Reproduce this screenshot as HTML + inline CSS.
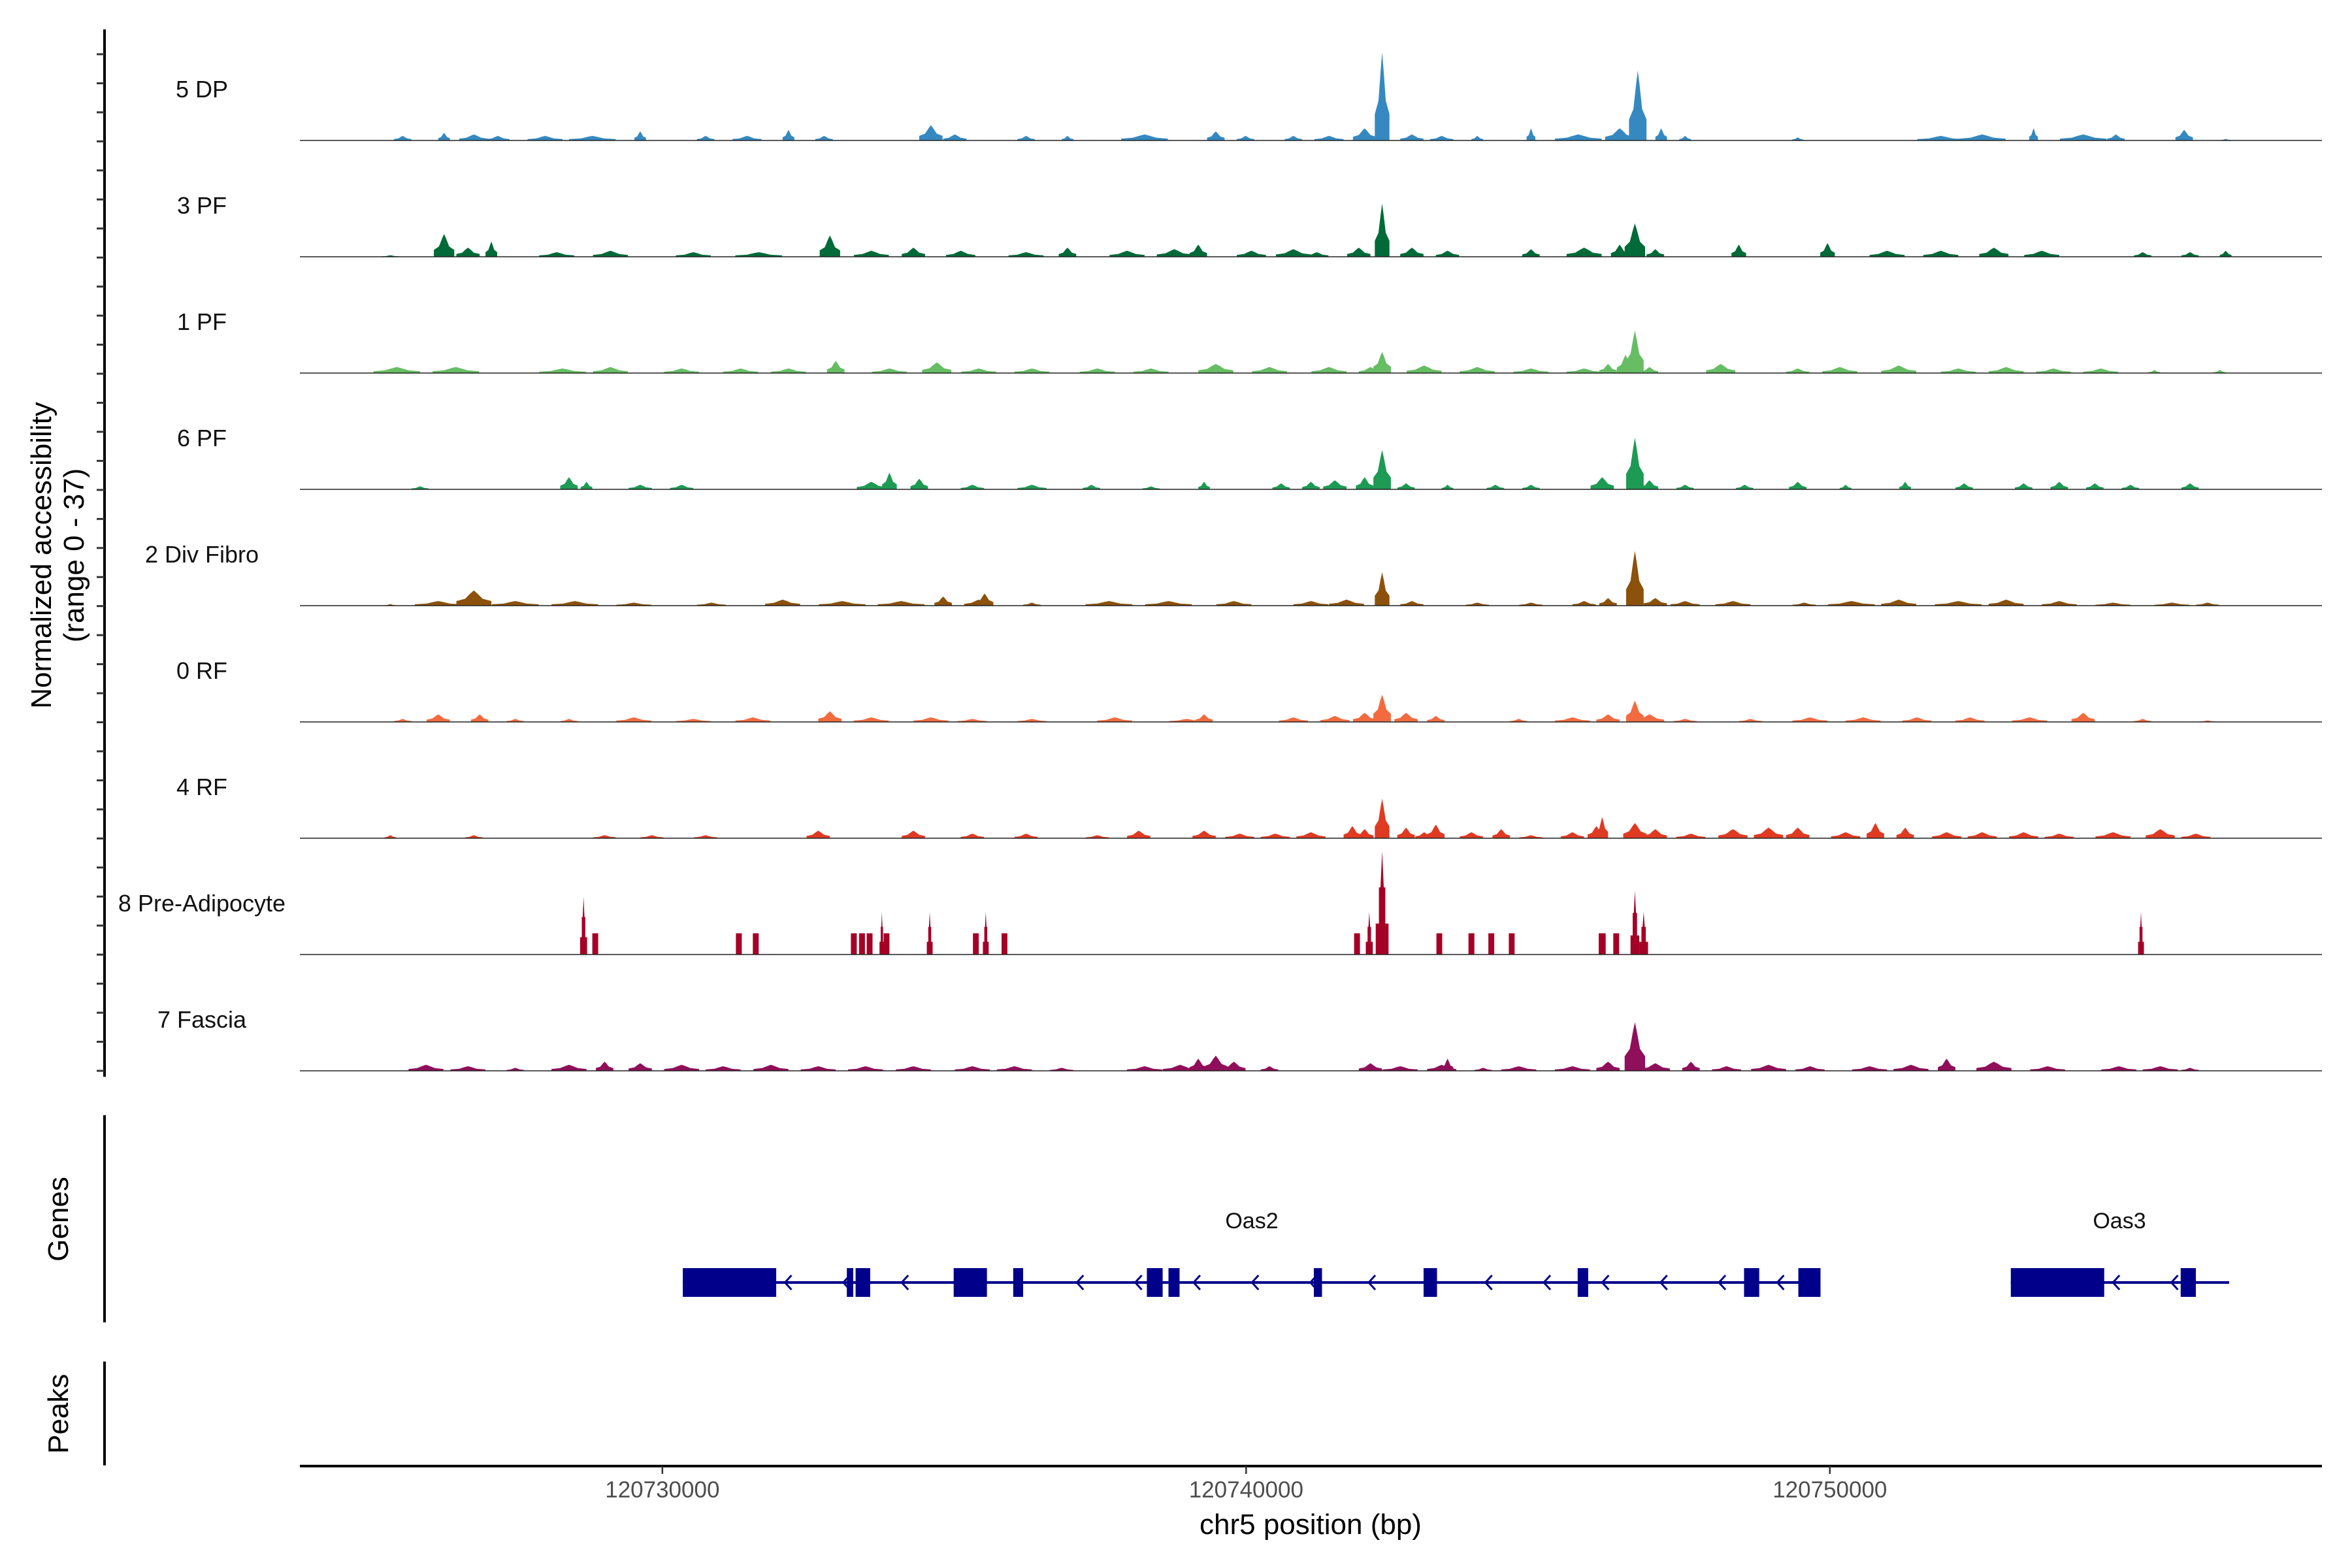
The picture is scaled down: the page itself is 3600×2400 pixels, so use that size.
<!DOCTYPE html>
<html><head><meta charset="utf-8"><style>
html,body{margin:0;padding:0;background:#fff;}
svg{display:block;font-family:"Liberation Sans",Arial,sans-serif;}
</style></head>
<body>
<svg id="chart" width="3600" height="2400" viewBox="0 0 3600 2400" xmlns="http://www.w3.org/2000/svg">
<rect width="3600" height="2400" fill="#fff"/>
<g id="tracks"></g>
<g id="yaxis"></g>
<g id="genes"></g>
<g id="xaxis"></g>
<text transform="translate(78,850) rotate(-90)" text-anchor="middle" font-size="44">Normalized accessibility</text>
<text transform="translate(128,850) rotate(-90)" text-anchor="middle" font-size="44">(range 0 - 37)</text>
<text transform="translate(104,1866) rotate(-90)" text-anchor="middle" font-size="44">Genes</text>
<text transform="translate(104,2164) rotate(-90)" text-anchor="middle" font-size="44">Peaks</text>
<text x="2006" y="2348" text-anchor="middle" font-size="44">chr5 position (bp)</text>
</svg>
<script>
// positions in kb relative to chr5:120,720,000
const trackNames = ["5 DP","3 PF","1 PF","6 PF","2 Div Fibro","0 RF","4 RF","8 Pre-Adipocyte","7 Fascia"];
const trackColors = ["#3589c0","#006a38","#66bd63","#1d9a53","#8c510a","#f26b3f","#e03a22","#a50026","#8f0f5a"];
const peaksDP = [[5.55,1.5,.3],[6.26,2.5,.2],[6.77,2,.5],[7.18,1.5,.4],[7.99,1.5,.6],[8.8,1.5,.8],[9.62,3,.2],[10.74,1.5,.3],[11.45,1.5,.5],[12.16,3.5,.2],[12.77,1.5,.3],[14.6,5,.4],[15.01,2,.4],[16.23,1.5,.3],[16.94,1.5,.2],[18.26,2,.8],[19.48,3,.3],[19.99,1.5,.3],[20.81,1.5,.3],[21.42,1.5,.5],[22.03,4,.4],[22.33,29,.25],[22.84,2,.4],[23.35,1.5,.4],[23.96,1.5,.2],[24.88,4,.15],[25.69,2,.8],[26.4,4,.5],[26.71,23,.3],[27.11,4,.2],[27.52,1.5,.2],[29.45,1,.2],[31.9,1.5,.8],[32.61,2,.8],[33.49,4,.15],[34.34,2,.8],[34.9,2,.3],[36.07,3.5,.3],[36.78,.5,.2]];
const peaks3PF = [[5.34,.5,.3],[6.26,7.5,.35],[6.67,3,.4],[7.07,5,.2],[8.19,1.5,.6],[9.11,2,.6],[10.53,1.5,.6],[11.65,1.5,.8],[12.87,7,.35],[13.58,2,.6],[14.3,3,.4],[15.11,2,.5],[16.23,1.5,.6],[16.94,3,.3],[17.96,2,.6],[18.77,2.5,.6],[19.18,4,.3],[20.09,2,.5],[20.81,2.5,.6],[21.21,1.5,.4],[21.93,3,.4],[22.33,17.5,.25],[22.84,3,.4],[23.45,2,.4],[24.88,2.5,.3],[25.79,3,.6],[26.4,4,.3],[26.66,11,.35],[27.01,2.5,.3],[28.44,4,.25],[29.96,4.5,.25],[30.98,2,.6],[31.9,2,.6],[32.81,3,.5],[33.63,2,.6],[35.36,1.5,.3],[36.17,1.5,.3],[36.78,2,.2]];
const peaks1PF = [[5.45,2,.8],[6.46,2,.8],[8.29,1.5,.8],[9.11,2,.6],[10.33,1.5,.6],[11.34,1.5,.6],[12.16,1.5,.6],[12.97,4,.3],[13.89,1.5,.6],[14.7,3.5,.5],[15.42,1.5,.6],[16.33,1.5,.6],[17.45,1.5,.6],[18.37,1.5,.6],[19.48,3,.6],[20.4,2,.6],[21.42,2,.6],[22.13,2,.4],[22.33,7,.3],[23.05,2.5,.6],[23.96,2,.6],[24.88,1.5,.6],[25.79,1.5,.6],[26.2,3,.3],[26.5,6,.3],[26.66,14,.3],[26.91,2,.3],[28.13,3,.5],[29.45,1.5,.4],[30.17,2,.6],[31.18,2.5,.6],[32.2,1.5,.6],[33.02,2,.6],[33.83,1.5,.6],[34.64,1.5,.6],[35.56,1,.2],[36.68,1,.2]];
const peaks6PF = [[5.85,1,.3],[8.4,4,.3],[8.7,2.5,.2],[9.62,1.5,.4],[10.33,1.5,.4],[13.58,2.5,.5],[13.89,5.5,.25],[14.4,3.5,.3],[15.31,1.5,.4],[16.33,1.5,.5],[17.35,1.5,.3],[18.37,1,.3],[19.28,2.5,.2],[20.6,2,.3],[21.11,2.5,.3],[21.52,3,.4],[22.03,4,.3],[22.33,13,.3],[22.74,2,.3],[23.45,1.5,.2],[24.27,1.5,.3],[24.88,1.5,.3],[26.1,4,.4],[26.66,17,.3],[26.91,3,.3],[27.52,1.5,.3],[28.54,1.5,.3],[29.45,2.5,.3],[30.27,1.5,.2],[31.29,2.5,.2],[32.3,2,.3],[33.32,2,.3],[33.93,2.5,.3],[34.54,2,.3],[35.15,1.5,.3],[36.17,2,.3]];
const peaksDiv = [[5.34,.5,.2],[6.16,1.5,.8],[6.77,5,.6],[7.48,1.5,.8],[8.5,1.5,.8],[9.51,1,.6],[10.84,1,.5],[12.06,2,.6],[13.08,1.5,.8],[14.09,1.5,.8],[14.81,3,.3],[15.42,2,.5],[15.52,4,.3],[16.33,1,.3],[17.65,1.5,.8],[18.67,1.5,.8],[19.79,1.5,.6],[21.11,1.5,.6],[21.72,2,.6],[22.33,11,.25],[22.84,1.5,.4],[23.96,1,.4],[24.88,1,.4],[25.79,1.5,.4],[26.2,2.5,.3],[26.66,18,.3],[27.01,2.5,.4],[27.52,1.5,.5],[28.34,1.5,.6],[29.56,1,.4],[30.37,1.5,.8],[31.18,2,.6],[32.2,1.5,.8],[33.02,2,.6],[33.93,1.5,.6],[34.85,1,.6],[35.86,1,.6],[36.47,1,.4]];
const peaks0RF = [[5.55,1,.3],[6.16,2.5,.4],[6.87,2.5,.3],[7.48,1,.3],[8.4,1,.3],[9.51,1.5,.6],[10.53,1,.6],[11.55,1.5,.6],[12.87,3.5,.4],[13.58,1.5,.6],[14.6,1.5,.6],[15.31,1,.5],[16.33,1,.5],[17.75,1.5,.6],[18.98,1,.6],[19.28,2.5,.3],[20.81,1.5,.5],[21.52,2,.5],[22.03,3,.4],[22.33,9,.3],[22.74,3,.4],[23.25,2,.3],[24.67,1,.3],[25.59,1.5,.6],[26.2,2.5,.4],[26.66,7,.3],[26.91,2.5,.5],[27.52,1,.4],[28.64,1,.4],[29.66,1.5,.6],[30.57,1.5,.6],[31.49,1.5,.5],[32.4,1.5,.5],[33.42,1.5,.6],[34.34,3,.4],[35.36,1,.3],[36.47,.5,.3]];
const peaks4RF = [[5.34,1,.2],[6.77,1,.3],[9.01,1,.4],[9.82,1,.4],[10.74,1,.4],[12.67,2.5,.4],[14.3,2.5,.4],[15.31,1.5,.4],[16.23,1.5,.4],[17.45,1,.4],[18.16,2.5,.4],[19.28,2.5,.4],[19.89,1.5,.5],[20.5,1.5,.5],[21.11,2,.5],[21.82,4,.3],[22.03,3,.3],[22.33,13,.25],[22.74,3.5,.3],[23.05,2,.3],[23.25,4.5,.3],[23.86,2,.4],[24.37,3,.3],[24.88,1,.4],[25.59,2,.4],[26,4,.3],[26.1,7,.2],[26.66,5,.4],[27.01,3,.4],[27.62,1.5,.5],[28.34,3,.5],[28.95,3.5,.5],[29.45,3.5,.4],[30.27,2,.5],[30.78,5,.3],[31.29,3.5,.3],[32,2,.5],[32.61,2,.5],[33.32,2,.5],[33.93,1.5,.5],[34.85,2,.6],[35.66,3,.5],[36.27,1.5,.5]];
const peaksPre = [[8.65,19,.12],[8.85,7,.1],[11.31,7,.1],[11.6,7,.1],[13.28,7,.1],[13.42,7,.1],[13.55,7,.1],[13.76,14,.08],[13.84,7,.1],[14.58,14,.1],[15.37,7,.1],[15.54,14,.1],[15.86,7,.1],[21.9,7,.1],[22.11,14,.12],[22.33,34,.22],[23.31,7,.1],[23.86,7,.1],[24.2,7,.1],[24.55,7,.1],[26.1,7,.12],[26.34,7,.1],[26.66,21,.15],[26.81,14,.15],[35.33,14,.1]];
const peaksFascia = [[5.95,2,.6],[6.67,1.5,.6],[7.48,1,.3],[8.4,2,.6],[9.01,3,.3],[9.62,2.5,.4],[10.33,2,.6],[11.04,1.5,.6],[11.86,2,.6],[12.67,1.5,.6],[13.48,1.5,.6],[14.3,1.5,.6],[15.31,1.5,.6],[16.03,1.5,.6],[16.84,1,.4],[18.26,1.5,.6],[18.87,2,.6],[19.18,4,.3],[19.48,5,.4],[19.79,3,.4],[20.4,1.5,.3],[22.13,2.5,.4],[22.64,1.5,.6],[23.35,2,.5],[23.45,4,.2],[24.06,1,.3],[24.67,1.5,.6],[25.59,1.5,.6],[26.2,3,.4],[26.66,16,.35],[27.01,2.5,.5],[27.62,3,.3],[28.23,1.5,.5],[28.95,2,.6],[29.66,1.5,.5],[30.68,1.5,.6],[31.39,2,.6],[32,4,.3],[32.81,3,.6],[33.73,1.5,.6],[34.95,1.5,.6],[35.66,1.5,.6],[36.17,1,.3]];
const trackPeaks = [peaksDP,peaks3PF,peaks1PF,peaks6PF,peaksDiv,peaks0RF,peaks4RF,peaksPre,peaksFascia];
const xTicks = [10,20,30];
const xTickLabels = ["120730000","120740000","120750000"];
const oas2Exons = [[10.35,11.95],[13.16,13.27],[13.31,13.56],[14.99,15.56],[16.01,16.18],[18.30,18.57],[18.67,18.86],[21.16,21.30],[23.04,23.27],[25.68,25.86],[28.53,28.79],[29.46,29.84]];
const oas3Exons = [[33.10,34.70],[36.01,36.27]];
const oas3End = 36.84;

const NS="http://www.w3.org/2000/svg";
const X0=459,X1=3554,KB0=3.79,KB1=38.43;
function xs(kb){return X0+(kb-KB0)/(KB1-KB0)*(X1-X0);}
const YMAX=37,TH=172;
function ys(v,base){return base-v/YMAX*TH;}
function mk(tag,attrs,parent){const e=document.createElementNS(NS,tag);for(const k in attrs)e.setAttribute(k,attrs[k]);parent.appendChild(e);return e;}
const baselines=[]; for(let i=0;i<9;i++) baselines.push(215+i*178.0);

const tg=document.getElementById('tracks');
trackNames.forEach((name,i)=>{
  const base=baselines[i];
  const g=mk('g',{},tg);
  
  
  const lab=mk('text',{x:309,y:base-66,'text-anchor':'middle','font-size':36,fill:'#111'},g);
  lab.textContent=name;
  
  
  const pre = (i===7);
  trackPeaks[i].forEach(p=>{
    const c=p[0],v=p[1],w=p[2];
    let pts;
    if(pre){
      pts=[[c-w/2,0],[c-w/2,v*0.3],[c-w/4,v*0.3],[c-w/4,v*0.65],[c-w/8,v*0.65],[c,v],[c+w/8,v*0.65],[c+w/4,v*0.65],[c+w/4,v*0.3],[c+w/2,v*0.3],[c+w/2,0]];
      if(v<=8) pts=[[c-w/2,0],[c-w/2,v],[c+w/2,v],[c+w/2,0]];
    } else {
      pts=[[c-w/2,0],[c-w/2,v*0.3],[c-w/4,v*0.45],[c-w/10,v*0.8],[c,v],[c+w/10,v*0.8],[c+w/4,v*0.45],[c+w/2,v*0.3],[c+w/2,0]];
    }
    const poly=mk('polygon',{points:pts.map(q=>xs(q[0]).toFixed(1)+','+ys(q[1],base).toFixed(1)).join(' '),fill:trackColors[i]},g);
    
    
  });
  const bl=mk('line',{x1:X0,x2:X1,y1:base,y2:base,stroke:'#222','stroke-width':1.6},g);
  
  
});

// y axis
const ya=document.getElementById('yaxis');
const yl=mk('line',{x1:160,x2:160,y1:45,y2:1648,stroke:'#000','stroke-width':4},ya);


for(let i=0;i<36;i++){
  const y=83+i*(1639-83)/35;
  const t=mk('line',{x1:148,x2:160,y1:y,y2:y,stroke:'#333','stroke-width':3},ya);
  
  
}
const ga=mk('line',{x1:160,x2:160,y1:1707,y2:2024,stroke:'#000','stroke-width':4},ya);


const pa=mk('line',{x1:160,x2:160,y1:2084,y2:2243,stroke:'#000','stroke-width':4},ya);



// genes
const gg=document.getElementById('genes');
const GY=1963, EH=44, GC='#00008b';
function drawGene(name,exons,start,end,labelX){
  const g=mk('g',{},gg);
  
  
  const ln=mk('line',{x1:xs(start),x2:xs(end),y1:GY,y2:GY,stroke:GC,'stroke-width':4},g);
  
  
  for(let k=start+0.75;k<end-0.1;k+=1.0){
    if(exons.some(e=>k>e[0]-0.05&&k<e[1]+0.12)) continue;
    const x=xs(k);
    const ch=mk('polyline',{points:`${x+10},${GY-11} ${x},${GY} ${x+10},${GY+11}`,fill:'none',stroke:GC,'stroke-width':3},g);
    
    
  }
  exons.forEach(e=>{
    const r=mk('rect',{x:xs(e[0]),y:GY-EH/2,width:xs(e[1])-xs(e[0]),height:EH,fill:GC},g);
    
    
  });
  const t=mk('text',{x:labelX,y:1880,'text-anchor':'middle','font-size':34,fill:'#111'},g);
  t.textContent=name;
  
  
}
drawGene('Oas2',oas2Exons,oas2Exons[0][0],oas2Exons[oas2Exons.length-1][1],1916);
drawGene('Oas3',oas3Exons,oas3Exons[0][0],oas3End,3244);

// x axis
const xa=document.getElementById('xaxis');
const xl=mk('line',{x1:X0,x2:X1,y1:2244,y2:2244,stroke:'#000','stroke-width':4},xa);


xTicks.forEach((kb,i)=>{
  const x=xs(kb);
  const t=mk('line',{x1:x,x2:x,y1:2244,y2:2256,stroke:'#333','stroke-width':2.5},xa);
  
  
  const l=mk('text',{x:x,y:2292,'text-anchor':'middle','font-size':35,fill:'#4d4d4d'},xa);
  l.textContent=xTickLabels[i];
  
  
});
</script>
</body></html>
